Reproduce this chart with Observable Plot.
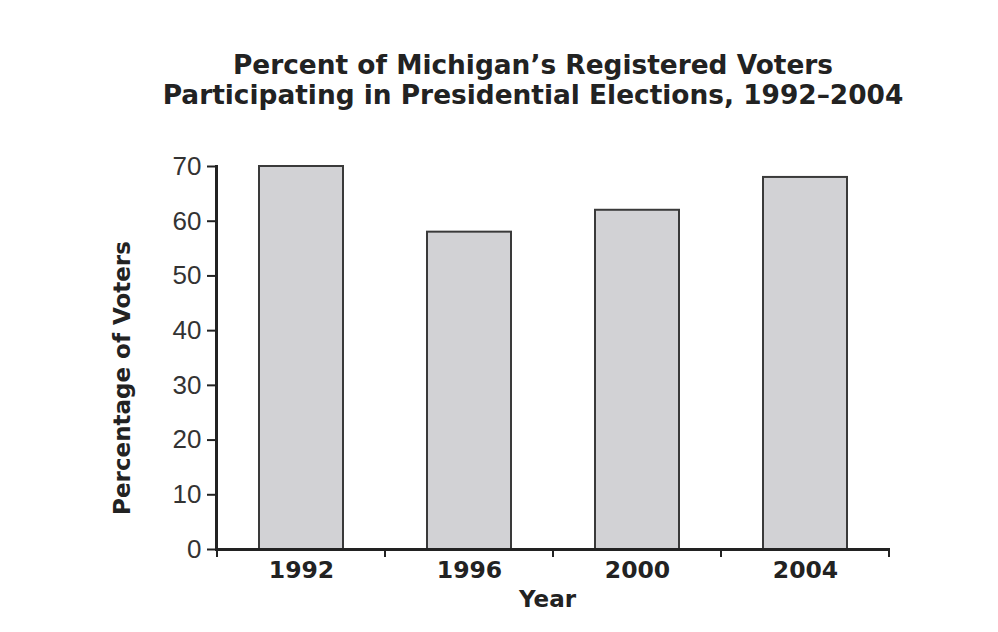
<!DOCTYPE html>
<html>
<head>
<meta charset="utf-8">
<script src="https://cdn.jsdelivr.net/npm/d3@7"></script>
<script src="https://cdn.jsdelivr.net/npm/@observablehq/plot@0.6"></script>
<style>
  html, body { margin: 0; padding: 0; background: #fff; overflow: hidden; }
  #title {
    box-sizing: border-box;
    width: 998px;
    height: 140px;
    padding-top: 50px;
    padding-left: 68px;
    text-align: center;
    font-family: "DejaVu Sans", sans-serif;
    font-weight: bold;
    font-size: 26.4px;
    line-height: 30px;
    color: #222;
  }
</style>
</head>
<body>
<div id="title">Percent of Michigan’s Registered Voters<br>Participating in Presidential Elections, 1992–2004</div>
<div id="chart"></div>
<script>
const years = ["1992", "1996", "2000", "2004"];
const percents = [70, 58, 62, 68];
const yTicks = [0, 10, 20, 30, 40, 50, 60, 70];
const xLabel = "Year";
const yLabel = "Percentage of Voters";

const data = years.map((year, i) => ({year, pct: percents[i]}));
const padInner = 0.5;

function boundaryTicks(index, scales, values, dimensions) {
  const x = scales.x;
  const xs = years.map(d => x(d));
  const step = xs[1] - xs[0];
  const bw = typeof x.bandwidth === "function" ? x.bandwidth() : step * (1 - padInner);
  const gap = (step - bw) / 2;
  const bounds = xs.map(v => v - gap).concat([xs[xs.length - 1] + bw + gap]);
  const y0 = dimensions.height - dimensions.marginBottom;
  const g = d3.create("svg:g");
  g.selectAll("line").data(bounds).join("line")
    .attr("x1", d => d).attr("x2", d => d)
    .attr("y1", y0).attr("y2", y0 + 8)
    .attr("stroke", "#222").attr("stroke-width", 2);
  return g.node();
}

const chart = Plot.plot({
  width: 998,
  height: 492,
  marginTop: 26,
  marginBottom: 83,
  marginLeft: 216,
  marginRight: 108,
  style: {fontFamily: "DejaVu Sans, sans-serif", background: "#fff", color: "#222"},
  x: {domain: years, paddingInner: padInner, paddingOuter: padInner / 2, label: null},
  y: {domain: [0, 70], label: null},
  marks: [
    Plot.barY(data, {x: "year", y: "pct", fill: "#d2d2d5", stroke: "#3a3a3a", strokeWidth: 2}),
    Plot.ruleY([0], {stroke: "#222", strokeWidth: 3}),
    Plot.frame({anchor: "left", stroke: "#222", strokeWidth: 3}),
    boundaryTicks,
    Plot.axisY({ticks: yTicks, tickSize: 9, tickPadding: 6, strokeWidth: 2, stroke: "#222",
      fontSize: 26, fontFamily: "Liberation Sans, Arial, sans-serif", fill: "#333", label: null}),
    Plot.axisX({tickSize: 0, tickPadding: 12, fontSize: 23.5, fontWeight: "bold", fill: "#222", label: null}),
    Plot.text([xLabel], {text: d => d, frameAnchor: "bottom", textAnchor: "middle", dy: 57, dx: -6, fontSize: 23, fontWeight: "bold", fill: "#222"}),
    Plot.text([yLabel], {text: d => d, frameAnchor: "left", textAnchor: "middle", rotate: -90, dx: -94, dy: 20, fontSize: 23, fontWeight: "bold", fill: "#222"})
  ]
});
document.getElementById("chart").appendChild(chart);
</script>
</body>
</html>
